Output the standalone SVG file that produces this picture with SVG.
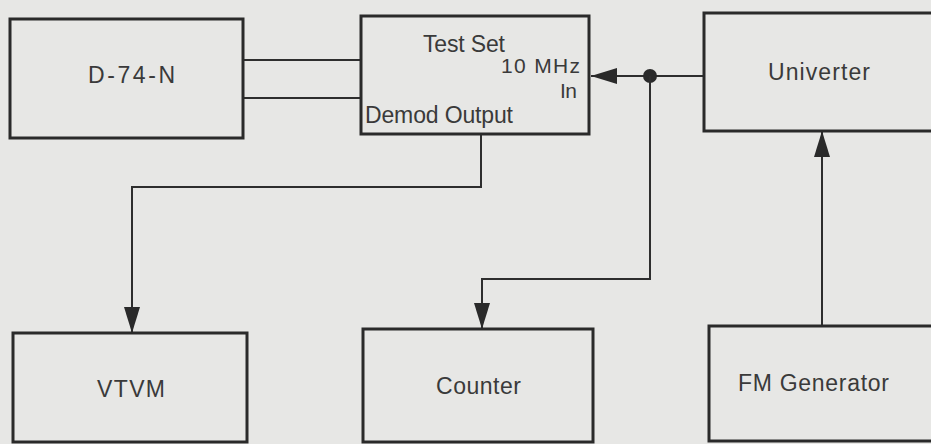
<svg xmlns="http://www.w3.org/2000/svg" width="931" height="444" viewBox="0 0 931 444">
<style>
.box{fill:none;stroke:#2a2a2a;stroke-width:3}
.con{fill:none;stroke:#2e2e2e;stroke-width:2}
text{font-family:"Liberation Sans","DejaVu Sans",sans-serif;font-size:23px;fill:#3a3a3a}
.sm{font-size:21px}
</style>
<defs>
<marker id="arr" markerUnits="userSpaceOnUse" markerWidth="28" markerHeight="18" refX="26" refY="8" orient="auto">
<path d="M0,0 L26,8 L0,16 z" fill="#2a2a2a"/>
</marker>
</defs>
<rect width="931" height="444" fill="#e7e7e5"/>
<g id="connectors">
<line class="con" x1="243" y1="60" x2="361" y2="60"/>
<line class="con" x1="243" y1="98" x2="361" y2="98"/>
<path class="con" d="M481,134 V187 H132 V333" marker-end="url(#arr)"/>
<path class="con" d="M704,76 H591" marker-end="url(#arr)"/>
<circle cx="650" cy="76" r="7" fill="#2a2a2a"/>
<path class="con" d="M650,76 V279 H482 V329" marker-end="url(#arr)"/>
<path class="con" d="M822,326 V131" marker-end="url(#arr)"/>
</g>
<g id="d74n">
<rect class="box" x="10" y="19" width="233" height="119"/>
<text x="88" y="83" textLength="87" lengthAdjust="spacing">D-74-N</text>
</g>
<g id="testset">
<rect class="box" x="361" y="16" width="228" height="118"/>
<text x="423" y="52" textLength="82" lengthAdjust="spacing">Test Set</text>
<text class="sm" x="501" y="73" textLength="79" lengthAdjust="spacing">10 MHz</text>
<text class="sm" x="560" y="98" textLength="17" lengthAdjust="spacing">In</text>
<text x="365" y="123" textLength="148" lengthAdjust="spacing">Demod Output</text>
</g>
<g id="univerter">
<rect class="box" x="704" y="13" width="240" height="118"/>
<text x="768" y="80" textLength="102" lengthAdjust="spacing">Univerter</text>
</g>
<g id="vtvm">
<rect class="box" x="13" y="333" width="234" height="109"/>
<text x="97" y="397" textLength="68" lengthAdjust="spacing">VTVM</text>
</g>
<g id="counter">
<rect class="box" x="363" y="329" width="230" height="113"/>
<text x="436" y="394" textLength="85" lengthAdjust="spacing">Counter</text>
</g>
<g id="fmgen">
<rect class="box" x="709" y="326" width="235" height="115"/>
<text x="738" y="391" textLength="151" lengthAdjust="spacing">FM Generator</text>
</g>
</svg>
